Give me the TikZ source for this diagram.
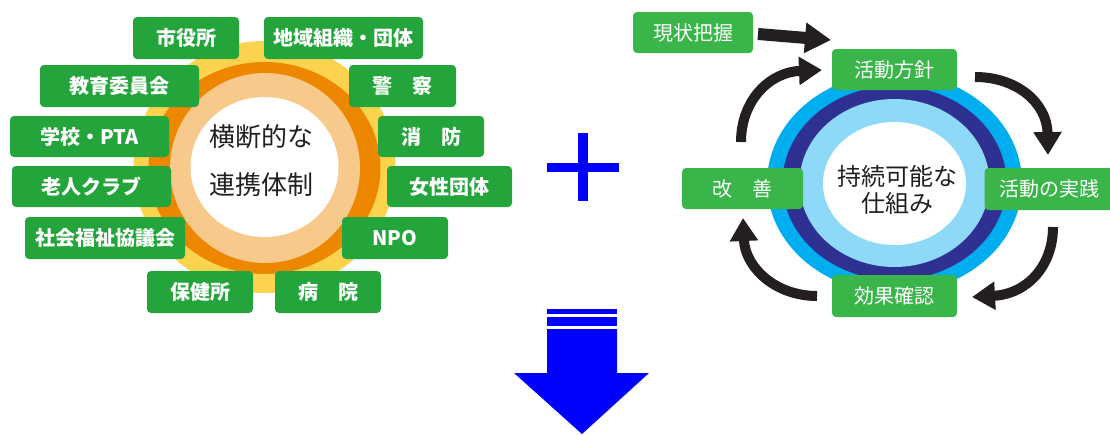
\documentclass[tikz,border=0pt]{standalone}
\usepackage{fontspec}
\newfontfamily\cjk{Noto Sans CJK JP}
\usetikzlibrary{arrows.meta}
\definecolor{gL}{HTML}{24A53B}
\definecolor{gR}{HTML}{39B54A}
\definecolor{ringY}{HTML}{FCD34E}
\definecolor{ringO}{HTML}{EE8700}
\definecolor{ringP}{HTML}{F7C98A}
\definecolor{ringC}{HTML}{00AEEF}
\definecolor{ringN}{HTML}{2E3192}
\definecolor{ringL}{HTML}{8ED8F8}
\definecolor{arr}{HTML}{231F20}
\definecolor{txt}{HTML}{231F20}
\definecolor{pureblue}{HTML}{0000FF}
\begin{document}
\begin{tikzpicture}[x=1pt,y=-1pt,
  lbox/.style={fill=gL, rounded corners=4pt, text=white,
    font=\cjk\bfseries\fontsize{20}{24}\selectfont,
    minimum height=42pt, inner sep=0pt},
  rbox/.style={fill=gR, rounded corners=4pt, text=white,
    font=\cjk\fontsize{20}{24}\selectfont,
    minimum height=41pt, inner sep=0pt},
  flow/.style={draw=arr, line width=10pt, -{Triangle[length=23pt,width=27pt]}},
  bigflow/.style={draw=arr, line width=12pt, -{Triangle[length=26pt,width=29pt]}},
  ctext/.style={text=txt, align=center, inner sep=0pt},
]
\useasboundingbox (0,0) rectangle (1110,434);
\fill[white] (0,0) rectangle (1110,434);

% ---------- left rings ----------
\fill[ringY] (264.5,167) ellipse [x radius=131pt, y radius=126pt];
\fill[ringO] (264.5,168) ellipse [x radius=116pt, y radius=106pt];
\fill[ringP] (265,168) ellipse [x radius=95pt, y radius=95pt];
\fill[white] (264.5,167) ellipse [x radius=74pt, y radius=70pt];
\node[ctext, font=\cjk\fontsize{26}{48}\selectfont] (ctrL) at (261,161) {横断的な\\連携体制};

% ---------- left boxes ----------
\node[lbox, minimum width=106pt] (shiyakusho) at (186,38) {市役所};
\node[lbox, minimum width=159pt] (chiiki) at (343.5,38) {地域組織・団体};
\node[lbox, minimum width=159pt] (kyoiku) at (119.5,86) {教育委員会};
\node[lbox, minimum width=107pt] (keisatsu) at (402.5,86) {警　察};
\node[lbox, minimum width=159pt, minimum height=41pt] (gakko) at (89.5,136.5) {学校・PTA};
\node[lbox, minimum width=106pt, minimum height=41pt] (shobo) at (431,136.5) {消　防};
\node[lbox, minimum width=159pt, minimum height=41pt] (rojin) at (91.5,186.5) {老人クラブ};
\node[lbox, minimum width=125pt, minimum height=41pt] (josei) at (449.5,186.5) {女性団体};
\node[lbox, minimum width=160pt] (shakai) at (105,238) {社会福祉協議会};
\node[lbox, minimum width=106pt] (npo) at (395,238) {NPO};
\node[lbox, minimum width=106pt] (hokenjo) at (200,292) {保健所};
\node[lbox, minimum width=106pt] (byoin) at (328,292) {病　院};

% ---------- plus ----------
\fill[pureblue] (578,133) rectangle (588,201);
\fill[pureblue] (547,163) rectangle (619,172);

% ---------- down arrow ----------
\fill[pureblue] (547,309) rectangle (617,314);
\fill[pureblue] (547,317) rectangle (617,326);
\fill[pureblue] (547,329) -- (617,329) -- (617,373) -- (649,373) -- (582,434)
  -- (514,373) -- (547,373) -- cycle;

% ---------- right rings ----------
\fill[ringC] (894.5,183) ellipse [x radius=127.5pt, y radius=110pt];
\fill[ringN] (894.5,183) ellipse [x radius=112pt, y radius=97pt];
\fill[ringL] (894.5,183) ellipse [x radius=95pt, y radius=84pt];
\fill[white] (894.5,183.5) ellipse [x radius=71.5pt, y radius=61.5pt];
\node[ctext, font=\cjk\fontsize{24}{27}\selectfont] (ctrR) at (897,189.5) {持続可能な\\仕組み};

% ---------- right boxes ----------
\node[rbox, minimum width=120pt] (genjo) at (693,32.5) {現状把握};
\node[rbox, minimum width=125pt] (hoshin) at (894.5,69.5) {活動方針};
\node[rbox, minimum width=130pt, minimum height=42pt] (jissen) at (1049.5,189) {活動の実践};
\node[rbox, minimum width=121pt] (kaizen) at (742.5,188.5) {改　善};
\node[rbox, minimum width=125pt, minimum height=42pt] (kouka) at (894.5,296) {効果確認};

% ---------- arrows ----------
\coordinate (p0s) at (758,34);
\coordinate (p0e) at (831,40);
\draw[bigflow] (p0s) -- (p0e);

\coordinate (p1s) at (741,142);
\coordinate (p1e) at (822,70);
\draw[flow] (p1s) .. controls (741,100) and (770,72) .. (p1e);

\coordinate (p2s) at (975,77);
\coordinate (p2e) at (1048,155);
\draw[flow] (p2s) .. controls (1017,77) and (1047,103) .. (p2e);

\coordinate (p3s) at (1053,227);
\coordinate (p3e) at (972,297);
\draw[flow] (p3s) .. controls (1053,266) and (1027,294) .. (p3e);

\coordinate (p4s) at (817,296);
\coordinate (p4e) at (743,218);
\draw[flow] (p4s) .. controls (775,296) and (745,267) .. (p4e);
\end{tikzpicture}
\end{document}
